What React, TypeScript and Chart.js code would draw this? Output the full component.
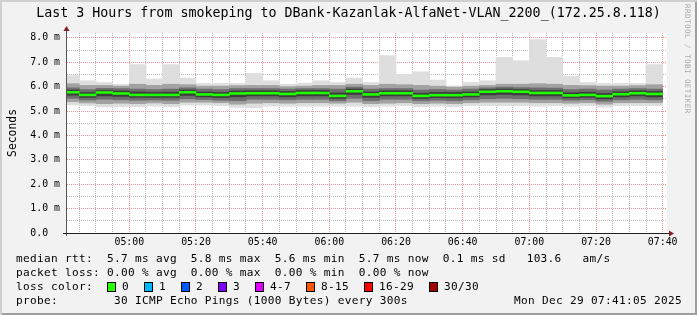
import React, { useEffect, useRef } from 'react';
import { Chart, registerables } from 'chart.js';

Chart.register(...registerables);

const TITLE = 'Last 3 Hours from smokeping to DBank-Kazanlak-AlfaNet-VLAN_2200_(172.25.8.118)';
const Y_TITLE = 'Seconds';
const WATERMARK = 'RRDTOOL / TOBI OETIKER';

// graph window (3 hours)
const rangeStart = '04:41:18';
const rangeEnd = '07:41:18';

// 5-minute RRD steps (start of each step)
const slotStart = [
  '04:40', '04:45', '04:50', '04:55', '05:00', '05:05', '05:10', '05:15', '05:20',
  '05:25', '05:30', '05:35', '05:40', '05:45', '05:50', '05:55', '06:00', '06:05',
  '06:10', '06:15', '06:20', '06:25', '06:30', '06:35', '06:40', '06:45', '06:50',
  '06:55', '07:00', '07:05', '07:10', '07:15', '07:20', '07:25', '07:30', '07:35',
];

// round-trip times in ms (smoke percentiles)
const rttMax = [
  6.45, 6.24, 6.17, 6.10, 6.90, 6.31, 6.90, 6.35, 6.13,
  6.13, 6.13, 6.54, 6.24, 6.10, 6.14, 6.24, 6.17, 6.35,
  6.17, 7.27, 6.49, 6.61, 6.27, 6.03, 6.17, 6.24, 7.20,
  7.06, 7.93, 7.20, 6.42, 6.17, 6.13, 6.13, 6.13, 6.90,
];
const rttP90 = [
  6.12, 6.05, 6.05, 6.02, 6.10, 6.05, 6.10, 6.08, 6.02,
  6.02, 6.04, 6.05, 6.05, 6.00, 6.02, 6.05, 6.05, 6.10,
  6.05, 6.10, 6.08, 6.05, 6.02, 5.98, 6.02, 6.05, 6.10,
  6.10, 6.12, 6.10, 6.05, 6.04, 6.02, 6.02, 6.04, 6.08,
];
const rttP75 = [
  5.95, 5.88, 5.93, 5.92, 5.90, 5.88, 5.90, 5.95, 5.90,
  5.88, 5.92, 5.92, 5.92, 5.90, 5.92, 5.92, 5.90, 5.98,
  5.90, 5.92, 5.92, 5.86, 5.88, 5.86, 5.90, 5.95, 5.98,
  5.96, 5.95, 5.94, 5.88, 5.90, 5.86, 5.90, 5.92, 5.90,
];
const rttP60 = [
  5.86, 5.76, 5.84, 5.82, 5.78, 5.76, 5.77, 5.86, 5.78,
  5.76, 5.82, 5.83, 5.83, 5.80, 5.84, 5.84, 5.74, 5.90,
  5.78, 5.83, 5.83, 5.73, 5.76, 5.76, 5.78, 5.88, 5.90,
  5.88, 5.84, 5.84, 5.75, 5.77, 5.72, 5.79, 5.83, 5.80,
];
const rttMedian = [
  5.77, 5.66, 5.76, 5.72, 5.66, 5.66, 5.66, 5.77, 5.68,
  5.66, 5.72, 5.73, 5.73, 5.70, 5.74, 5.74, 5.62, 5.81,
  5.68, 5.73, 5.73, 5.62, 5.65, 5.65, 5.68, 5.79, 5.81,
  5.79, 5.74, 5.74, 5.64, 5.66, 5.61, 5.69, 5.73, 5.70,
];
const rttP40 = [
  5.65, 5.56, 5.62, 5.60, 5.56, 5.56, 5.56, 5.64, 5.58,
  5.55, 5.58, 5.62, 5.62, 5.58, 5.62, 5.62, 5.52, 5.68,
  5.56, 5.62, 5.62, 5.52, 5.55, 5.54, 5.58, 5.66, 5.68,
  5.66, 5.62, 5.62, 5.54, 5.56, 5.50, 5.58, 5.62, 5.58,
];
const rttP25 = [
  5.52, 5.45, 5.48, 5.46, 5.44, 5.45, 5.44, 5.50, 5.47,
  5.44, 5.42, 5.48, 5.48, 5.46, 5.48, 5.48, 5.42, 5.52,
  5.42, 5.48, 5.48, 5.42, 5.44, 5.42, 5.46, 5.50, 5.52,
  5.50, 5.48, 5.48, 5.44, 5.46, 5.40, 5.46, 5.48, 5.46,
];
const rttP10 = [
  5.38, 5.33, 5.30, 5.32, 5.30, 5.33, 5.30, 5.36, 5.36,
  5.34, 5.28, 5.32, 5.34, 5.32, 5.34, 5.34, 5.32, 5.36,
  5.30, 5.32, 5.34, 5.30, 5.32, 5.30, 5.34, 5.36, 5.36,
  5.36, 5.34, 5.34, 5.32, 5.34, 5.28, 5.34, 5.34, 5.34,
];
const rttMin = [
  5.25, 5.22, 5.17, 5.18, 5.18, 5.20, 5.18, 5.24, 5.24,
  5.22, 5.15, 5.14, 5.20, 5.20, 5.20, 5.20, 5.20, 5.20,
  5.18, 5.20, 5.22, 5.18, 5.20, 5.18, 5.22, 5.22, 5.22,
  5.22, 5.20, 5.22, 5.20, 5.22, 5.16, 5.22, 5.22, 5.22,
];

// axis ticks
const yTickValues = [0, 0.5, 1, 1.5, 2, 2.5, 3, 3.5, 4, 4.5, 5, 5.5, 6, 6.5, 7, 7.5, 8];
const yMax = 8.2;
const xGridTimes = [
  '04:45', '04:50', '04:55', '05:00', '05:05', '05:10', '05:15', '05:20', '05:25',
  '05:30', '05:35', '05:40', '05:45', '05:50', '05:55', '06:00', '06:05', '06:10',
  '06:15', '06:20', '06:25', '06:30', '06:35', '06:40', '06:45', '06:50', '06:55',
  '07:00', '07:05', '07:10', '07:15', '07:20', '07:25', '07:30', '07:35', '07:40',
];
const xLabelTimes = ['05:00', '05:20', '05:40', '06:00', '06:20', '06:40', '07:00', '07:20', '07:40'];

// legend text
const legendMedian = 'median rtt:  5.7 ms avg  5.8 ms max  5.6 ms min  5.7 ms now  0.1 ms sd   103.6   am/s';
const legendLoss = 'packet loss: 0.00 % avg  0.00 % max  0.00 % min  0.00 % now';
const lossLabels = ['0', '1', '2', '3', '4-7', '8-15', '16-29', '30/30'];
const lossColors = ['#26ff00', '#00b8ff', '#0059ff', '#7e00ff', '#dd00ff', '#ff5500', '#ff0000', '#a10000'];
const legendProbe = 'probe:        30 ICMP Echo Pings (1000 Bytes) every 300s';
const legendDate = 'Mon Dec 29 07:41:05 2025';

const MONO = "'DejaVu Sans Mono', monospace";

const toMin = (s: string) => {
  const p = s.split(':').map(Number);
  return p[0] * 60 + p[1] + (p[2] || 0) / 60;
};
const fmt = (v: number) => {
  const h = Math.floor(v / 60);
  const m = Math.round(v - h * 60);
  return String(h).padStart(2, '0') + ':' + String(m).padStart(2, '0');
};

const STEP_HALF = 2.5;
const band = (lo: number[], hi: number[], color: string, order: number) => ({
  type: 'bar' as const,
  yAxisID: 'y',
  data: slotStart.map((s, i) => ({ x: toMin(s) + STEP_HALF, y: [lo[i], hi[i]] })),
  backgroundColor: color,
  borderWidth: 0,
  grouped: false,
  barPercentage: 1,
  categoryPercentage: 1,
  clip: 0,
  order,
});

const MEDIAN_HALF = 0.04;
const labelSet = new Set(xLabelTimes.map(toMin));
const MGRID = 'rgba(222,79,79,0.6)';
const GRID = 'rgba(143,143,143,0.6)';

const decor = {
  id: 'decor',
  beforeDraw(chart: any) {
    const { ctx, chartArea } = chart;
    ctx.save();
    ctx.fillStyle = '#ffffff';
    ctx.fillRect(chartArea.left, chartArea.top, chartArea.right - chartArea.left, chartArea.bottom - chartArea.top);
    ctx.restore();
  },
  afterDraw(chart: any) {
    const { ctx, chartArea } = chart;
    const { left, top, right, bottom } = chartArea;
    ctx.save();
    ctx.strokeStyle = '#555555';
    ctx.lineWidth = 1;
    ctx.beginPath();
    ctx.moveTo(left - 0.5, bottom + 3);
    ctx.lineTo(left - 0.5, top - 3);
    ctx.stroke();
    ctx.strokeStyle = '#1f1f1f';
    ctx.beginPath();
    ctx.moveTo(left - 4, bottom + 0.5);
    ctx.lineTo(right + 2, bottom + 0.5);
    ctx.stroke();
    ctx.fillStyle = '#801f1f';
    ctx.beginPath();
    ctx.moveTo(left - 0.5, top - 7);
    ctx.lineTo(left - 3.5, top - 2);
    ctx.lineTo(left + 2.5, top - 2);
    ctx.closePath();
    ctx.fill();
    ctx.beginPath();
    ctx.moveTo(right + 7, bottom + 0.5);
    ctx.lineTo(right + 2, bottom - 2.5);
    ctx.lineTo(right + 2, bottom + 3.5);
    ctx.closePath();
    ctx.fill();
    ctx.restore();
  },
};

export default function App() {
  const ref = useRef<HTMLCanvasElement>(null);

  useEffect(() => {
    document.body.style.margin = '0';
    const medianLo = rttMedian.map((m) => m - MEDIAN_HALF);
    const medianHi = rttMedian.map((m) => m + MEDIAN_HALF);
    const chart = new Chart(ref.current as HTMLCanvasElement, {
      type: 'bar',
      data: {
        datasets: [
          band(medianLo, medianHi, '#20ff00', 0),
          band(rttP40, rttP60, '#3c3c3c', 1),
          band(rttP25, rttP75, '#6e6e6e', 2),
          band(rttP10, rttP90, '#a2a2a2', 3),
          band(rttMin, rttMax, '#dedede', 4),
        ] as any,
      },
      options: {
        animation: false,
        responsive: false,
        devicePixelRatio: 1,
        layout: { padding: 0 },
        plugins: {
          legend: { display: false },
          tooltip: { enabled: false },
          title: {
            display: true,
            text: TITLE,
            color: '#000000',
            font: { family: MONO, size: 13.3, weight: 'normal', lineHeight: 1.2 },
            padding: { top: 6, bottom: 11 },
          },
        },
        scales: {
          x: {
            type: 'linear',
            min: toMin(rangeStart),
            max: toMin(rangeEnd),
            offset: false,
            z: 1,
            border: { display: false, dash: [1, 1] },
            grid: {
              offset: false,
              drawTicks: false,
              lineWidth: 1,
              color: (c: any) => (labelSet.has(c.tick?.value) ? MGRID : GRID),
            },
            afterBuildTicks: (scale: any) => {
              scale.ticks = xGridTimes.map((t) => ({ value: toMin(t) }));
            },
            afterFit: (scale: any) => {
              scale.height = 82;
            },
            ticks: {
              autoSkip: false,
              maxRotation: 0,
              padding: 3,
              color: '#000000',
              font: { family: MONO, size: 9.9 },
              callback: (v: any) => (labelSet.has(v) ? fmt(v) : ''),
            },
          },
          y: {
            type: 'linear',
            position: 'left',
            min: 0,
            max: yMax,
            z: 1,
            border: { display: false, dash: [1, 1] },
            grid: {
              drawTicks: false,
              lineWidth: 1,
              color: (c: any) => (Number.isInteger(c.tick?.value) ? MGRID : GRID),
            },
            afterBuildTicks: (scale: any) => {
              scale.ticks = yTickValues.map((v) => ({ value: v }));
            },
            afterFit: (scale: any) => {
              scale.width = 67;
            },
            title: {
              display: true,
              text: Y_TITLE,
              color: '#000000',
              font: { family: MONO, size: 11.4, weight: 'normal' },
              padding: { top: 6, bottom: 0 },
            },
            ticks: {
              autoSkip: false,
              padding: 7,
              color: '#000000',
              font: { family: MONO, size: 9.9 },
              callback: (v: any) => (Number.isInteger(v) ? (v === 0 ? '0.0  ' : v.toFixed(1) + ' m') : ''),
            },
          },
          yRight: {
            type: 'linear',
            position: 'right',
            min: 0,
            max: yMax,
            display: true,
            border: { display: false },
            grid: { display: false, drawTicks: false },
            ticks: { display: false },
            afterFit: (scale: any) => {
              scale.width = 30;
            },
          },
        },
      },
      plugins: [decor],
    } as any);
    return () => chart.destroy();
  }, []);

  const textStyle: React.CSSProperties = {
    position: 'absolute',
    fontFamily: MONO,
    fontSize: 11.1,
    letterSpacing: 0.316,
    lineHeight: '14px',
    whiteSpace: 'pre',
    color: '#000',
  };

  return (
    <div
      style={{
        position: 'relative',
        width: 697,
        height: 315,
        background: '#f2f2f2',
        boxShadow: 'inset 2px 2px 0 #cfcfcf, inset -2px -2px 0 #9e9e9e',
        overflow: 'hidden',
      }}
    >
      <canvas ref={ref} width={697} height={315} style={{ position: 'absolute', left: 0, top: 0 }} />
      <div style={{ ...textStyle, left: 16, top: 252 }}>{legendMedian}</div>
      <div style={{ ...textStyle, left: 16, top: 266 }}>{legendLoss}</div>
      <div style={{ ...textStyle, left: 16, top: 280, display: 'flex', alignItems: 'center', height: 14 }}>
        <span>{'loss color:  '}</span>
        {lossLabels.map((l, i) => (
          <React.Fragment key={l}>
            <span
              style={{
                display: 'inline-block',
                width: 7,
                height: 8,
                border: '1px solid #000',
                background: lossColors[i],
                marginRight: 6,
              }}
            />
            <span style={{ marginRight: 15 }}>{l}</span>
          </React.Fragment>
        ))}
      </div>
      <div style={{ ...textStyle, left: 16, top: 294 }}>{legendProbe}</div>
      <div style={{ ...textStyle, right: 15, top: 294 }}>{legendDate}</div>
      <div
        style={{
          position: 'absolute',
          left: 683,
          top: 4,
          writingMode: 'vertical-rl',
          fontFamily: MONO,
          fontSize: 7.6,
          letterSpacing: 0.42,
          lineHeight: '9px',
          whiteSpace: 'pre',
          color: '#ababab',
        }}
      >
        {WATERMARK}
      </div>
    </div>
  );
}
